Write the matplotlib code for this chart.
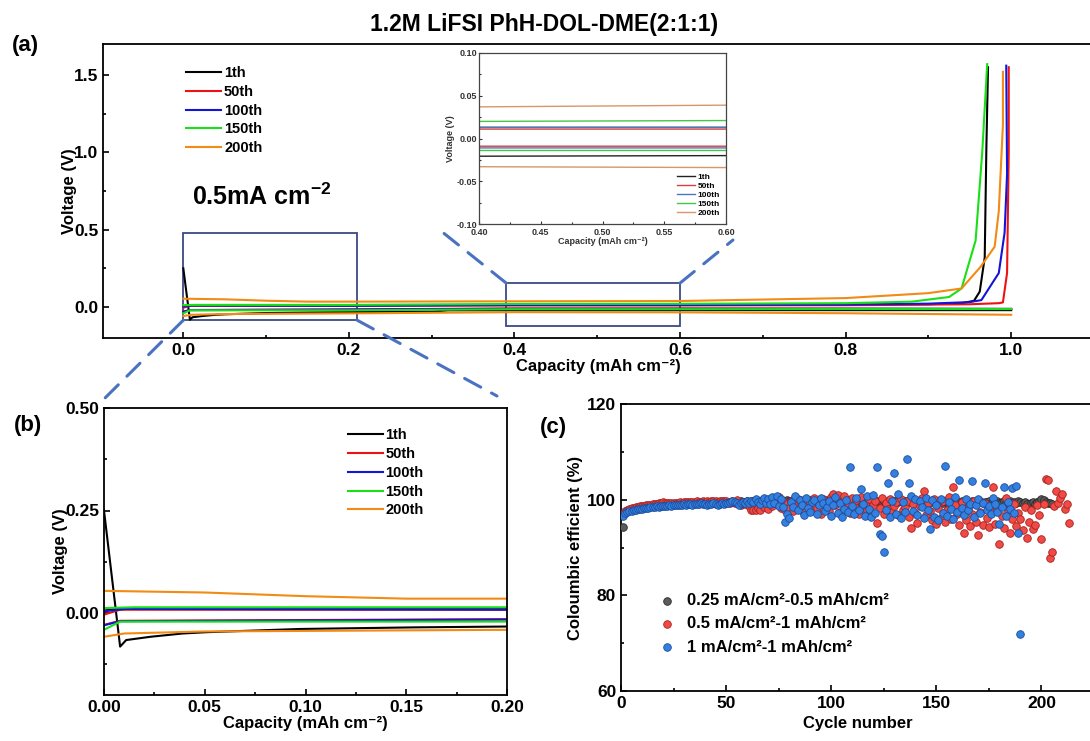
import matplotlib
matplotlib.use("Agg")
import matplotlib.pyplot as plt
from matplotlib.patches import Rectangle, ConnectionPatch
from matplotlib.ticker import MultipleLocator

plt.rcParams["font.family"] = ["Liberation Sans", "DejaVu Sans"]
plt.rcParams["font.weight"] = "bold"
plt.rcParams["axes.labelweight"] = "bold"
plt.rcParams["axes.unicode_minus"] = False
plt.rcParams["mathtext.fontset"] = "custom"
plt.rcParams["mathtext.rm"] = "Liberation Sans:bold"
plt.rcParams["mathtext.it"] = "Liberation Sans:bold"
plt.rcParams["mathtext.bf"] = "Liberation Sans:bold"
plt.rcParams["mathtext.default"] = "rm"

# ---- voltage profiles (capacity mAh cm-2, voltage V) ----
CYCLES = ["1th", "50th", "100th", "150th", "200th"]

strip_x_1 = [0.0, 0.01, 0.1, 0.2, 0.4, 0.6, 0.8, 0.9, 0.94, 0.955, 0.962, 0.968, 0.970, 0.972]
strip_y_1 = [0.006, 0.012, 0.012, 0.012, 0.013, 0.013, 0.014, 0.018, 0.025, 0.04, 0.10, 0.32, 1.03, 1.55]
plate_x_1 = [0.0, 0.008, 0.011, 0.023, 0.039, 0.05, 0.097, 0.155, 0.2, 0.30, 0.32, 0.6, 0.8, 1.0]
plate_y_1 = [0.25, -0.082, -0.066, -0.058, -0.050, -0.047, -0.039, -0.035, -0.033, -0.030, -0.021, -0.020, -0.020, -0.020]

strip_x_50 = [0.0, 0.008, 0.2, 0.4, 0.6, 0.8, 0.95, 0.985, 0.99, 0.995, 0.997, 0.997]
strip_y_50 = [-0.004, 0.008, 0.008, 0.011, 0.011, 0.012, 0.018, 0.025, 0.03, 0.22, 1.0, 1.55]
plate_x_50 = [0.0, 0.008, 0.2, 0.4, 0.6, 0.8, 1.0]
plate_y_50 = [-0.029, -0.019, -0.015, -0.009, -0.009, -0.010, -0.012]

strip_x_100 = [0.0, 0.011, 0.2, 0.4, 0.6, 0.8, 0.9, 0.95, 0.964, 0.985, 0.992, 0.995, 0.994]
strip_y_100 = [0.004, 0.010, 0.008, 0.013, 0.013, 0.016, 0.022, 0.032, 0.045, 0.22, 0.48, 0.86, 1.56]
plate_x_100 = [0.0, 0.008, 0.2, 0.4, 0.6, 0.8, 1.0]
plate_y_100 = [-0.030, -0.020, -0.016, -0.011, -0.011, -0.011, -0.012]

strip_x_150 = [0.0, 0.015, 0.2, 0.4, 0.6, 0.8, 0.88, 0.925, 0.94, 0.957, 0.965, 0.971]
strip_y_150 = [0.012, 0.014, 0.014, 0.020, 0.021, 0.025, 0.035, 0.065, 0.12, 0.43, 1.0, 1.57]
plate_x_150 = [0.0, 0.008, 0.2, 0.4, 0.6, 0.8, 1.0]
plate_y_150 = [-0.041, -0.021, -0.021, -0.014, -0.014, -0.013, -0.013]

strip_x_200 = [0.0, 0.05, 0.1, 0.15, 0.2, 0.4, 0.6, 0.8, 0.86, 0.9, 0.94, 0.963, 0.98, 0.985, 0.99, 0.99]
strip_y_200 = [0.054, 0.050, 0.041, 0.035, 0.035, 0.037, 0.039, 0.058, 0.077, 0.09, 0.12, 0.26, 0.39, 0.62, 1.18, 1.52]
plate_x_200 = [0.0, 0.01, 0.05, 0.2, 0.4, 0.6, 0.8, 1.0]
plate_y_200 = [-0.058, -0.050, -0.045, -0.041, -0.033, -0.034, -0.040, -0.050]

# ---- coulombic efficiency (%) per cycle ----
ce_025 = [
    94.3, 97.3, 97.6, 97.8, 98.0, 98.1, 98.2, 98.3, 98.4, 98.4,
    98.5, 98.5, 98.6, 98.6, 98.7, 98.7, 98.8, 98.8, 98.9, 98.9,
    98.9, 99.0, 99.0, 99.0, 99.1, 99.1, 99.1, 99.2, 99.2, 99.2,
    99.2, 99.3, 99.3, 99.2, 99.3, 99.4, 99.3, 99.4, 99.4, 99.3,
    99.4, 99.5, 99.4, 99.5, 99.4, 99.5, 99.5, 99.4, 99.5, 99.6,
    99.5, 99.6, 99.5, 99.6, 99.6, 99.5, 99.7, 99.6, 99.6, 99.7,
    99.6, 99.7, 99.7, 99.6, 99.8, 99.7, 99.7, 99.8, 99.6, 99.7,
    99.8, 99.7, 99.8, 99.9, 99.7, 99.8, 99.8, 99.7, 99.9, 99.8,
    99.8, 99.9, 99.7, 99.8, 99.9, 99.8, 99.9, 99.8, 99.7, 99.9,
    99.8, 99.9, 99.8, 100.0, 99.8, 99.9, 99.7, 99.9, 99.8, 99.9,
    99.8, 99.9, 99.7, 99.8, 99.9, 99.8, 99.6, 99.9, 99.8, 99.7,
    99.8, 99.9, 99.6, 99.8, 99.7, 99.9, 99.8, 99.6, 99.7, 99.8,
    99.6, 99.8, 99.7, 99.5, 99.8, 99.6, 99.7, 99.9, 99.6, 99.8,
    99.7, 99.5, 99.8, 99.6, 99.7, 99.8, 99.5, 99.7, 99.6, 99.8,
    99.6, 99.7, 99.5, 99.8, 99.6, 99.4, 99.7, 99.6, 99.8, 99.5,
    99.7, 99.6, 99.4, 99.7, 99.5, 99.8, 99.6, 99.4, 99.7, 99.5,
    99.6, 99.8, 99.5, 99.7, 99.4, 99.6, 99.8, 99.5, 99.3, 99.6,
    99.7, 99.4, 99.6, 99.5, 99.8, 99.3, 99.6, 99.5, 99.7, 99.4,
    99.6, 99.8, 99.4, 99.5, 99.7, 99.3, 99.6, 99.4, 99.8, 99.5,
    99.3, 99.6, 99.0, 98.7, 99.2, 99.5, 99.1, 99.6, 99.8, 100.1,
    99.9, 99.6, 99.4, 99.2, 99.0,
]
ce_05 = [
    97.0, 97.6, 97.9, 98.1, 98.2, 98.3, 98.4, 98.5, 98.6, 98.6,
    98.7, 98.8, 98.8, 98.9, 99.0, 99.0, 99.1, 99.2, 99.2, 99.5,
    99.2, 99.3, 99.3, 99.4, 99.3, 99.4, 99.4, 99.5, 99.4, 99.5,
    99.5, 99.6, 99.5, 99.6, 99.6, 99.7, 99.5, 99.6, 99.7, 99.6,
    99.7, 99.6, 99.7, 99.8, 99.7, 99.6, 99.7, 99.8, 99.7, 99.8,
    99.6, 99.2, 99.8, 99.4, 99.9, 99.3, 98.8, 99.6, 99.1, 99.5,
    98.6, 97.8, 97.9, 97.8, 98.3, 97.9, 99.0, 98.4, 99.5, 98.0,
    99.2, 98.6, 100.4, 99.1, 100.6, 98.3, 99.7, 97.9, 99.0, 98.2,
    99.8, 97.6, 98.9, 100.2, 98.4, 99.3, 97.2, 100.0, 98.7, 99.5,
    97.9, 100.3, 98.3, 99.0, 97.1, 100.1, 98.6, 99.4, 97.7, 100.5,
    101.2, 98.8, 100.9, 97.5, 99.6, 100.7, 98.1, 99.2, 97.3, 100.4,
    98.6, 99.9, 97.0, 100.6, 98.3, 99.1, 97.8, 100.2, 96.6, 98.9,
    99.7, 95.1, 98.2, 100.3, 96.9, 99.4, 98.0, 100.1, 97.4, 98.7,
    99.6, 96.8, 100.2, 97.9, 98.5, 99.8, 96.4, 94.0, 99.1, 97.2,
    95.2, 98.6, 100.4, 101.9, 96.7, 99.3, 97.6, 95.8, 100.1, 94.9,
    98.3, 96.2, 99.7, 95.4, 97.9, 100.6, 96.0, 102.7, 98.9, 97.1,
    94.6, 99.5, 93.0, 95.8, 98.2, 94.4, 96.9, 99.8, 95.3, 92.6,
    97.4, 94.8, 99.2, 96.1, 94.3, 97.6, 102.7, 95.0, 98.0, 90.8,
    96.6, 94.1, 100.3, 97.7, 93.0, 95.9, 99.0, 94.5, 97.2, 96.0,
    93.7, 98.4, 92.0, 95.3, 97.8, 93.9, 94.6, 98.9, 96.7, 91.8,
    99.1, 104.3, 104.1, 87.8, 89.0, 98.6, 101.9, 99.4, 100.3, 101.2,
    98.0, 99.0, 95.2,
]
ce_1 = [
    96.6, 97.2, 97.5, 97.6, 97.7, 97.8, 97.9, 98.0, 98.1, 98.1,
    98.2, 98.3, 98.3, 98.4, 98.5, 98.4, 98.6, 98.5, 98.6, 98.7,
    98.6, 98.7, 98.8, 98.7, 98.8, 98.9, 98.8, 98.9, 98.9, 99.0,
    98.9, 99.0, 99.1, 98.9, 99.0, 99.1, 99.0, 99.2, 99.1, 99.0,
    98.8, 99.1, 99.0, 99.2, 99.1, 98.9, 99.0, 99.2, 99.1, 99.3,
    99.4, 99.6, 99.8, 99.5, 99.2, 98.9, 99.3, 99.6, 99.4, 99.7,
    99.2, 99.8, 99.5, 100.2, 99.6, 99.1, 99.9, 100.4, 99.3, 100.1,
    99.0, 100.5, 99.4, 100.8, 98.7, 100.2, 98.5, 95.3, 97.1, 96.2,
    99.5, 98.4, 100.7, 97.8, 99.9, 98.9, 96.8, 100.3, 98.2, 97.4,
    99.6, 100.0, 97.0, 98.8, 100.4, 99.2, 97.6, 98.5, 99.8, 96.5,
    98.9, 100.6, 97.3, 99.4, 96.4, 98.1, 99.9, 97.5, 106.8, 98.6,
    96.9, 100.3, 97.8, 102.2, 99.1, 96.6, 100.7, 98.0, 96.3, 100.9,
    97.2, 106.8, 92.8, 92.3, 89.1, 97.9, 103.5, 96.4, 99.8, 105.6,
    97.0, 101.1, 96.1, 99.5, 97.4, 108.5, 103.5, 100.8, 97.6, 100.1,
    96.8, 99.7, 98.5, 96.2, 100.4, 97.8, 93.8, 99.9, 96.4, 98.9,
    95.8, 100.2, 97.3, 107.1, 96.5, 99.6, 98.1, 95.9, 100.6, 97.4,
    104.1, 98.3, 96.7, 100.1, 97.9, 99.0, 104.0, 96.3, 98.8, 100.2,
    97.2, 99.4, 103.4, 97.8, 98.6, 96.9, 100.3, 99.1, 97.5, 94.9,
    98.4, 102.7, 96.5, 99.6, 98.0, 102.5, 97.3, 102.8, 93.1, 71.9,
]
CE_LABELS = [
    "0.25 mA/cm²-0.5 mAh/cm²",
    "0.5 mA/cm²-1 mAh/cm²",
    "1 mA/cm²-1 mAh/cm²",
]

MAIN_COLORS = ["#000000", "#ee1111", "#1414d8", "#18e018", "#f28a14"]
INSET_COLORS = ["#222222", "#d84040", "#4a78b8", "#44c844", "#d8966a"]

profiles = [
    (strip_x_1, strip_y_1, plate_x_1, plate_y_1),
    (strip_x_50, strip_y_50, plate_x_50, plate_y_50),
    (strip_x_100, strip_y_100, plate_x_100, plate_y_100),
    (strip_x_150, strip_y_150, plate_x_150, plate_y_150),
    (strip_x_200, strip_y_200, plate_x_200, plate_y_200),
]

W, H = 1090, 741
CAP_LABEL = "Capacity (mAh cm⁻²)"


def px_axes(left, top, right, bottom):
    return [left / W, 1 - bottom / H, (right - left) / W, (bottom - top) / H]


def style_ticks(ax, size=12.5, length=4):
    ax.tick_params(which="both", direction="in", labelsize=size, width=1.2)
    ax.tick_params(which="major", length=length)
    ax.tick_params(which="minor", length=length * 0.6)
    for sp in ax.spines.values():
        sp.set_linewidth(1.3)


fig = plt.figure(figsize=(W / 100, H / 100), dpi=100)

# ---------- (a) ----------
ax_a = fig.add_axes(px_axes(103, 44, 1094, 338))
for (sx, sy, px, py), c, lab in zip(profiles, MAIN_COLORS, CYCLES):
    ax_a.plot(px, py, color=c, lw=1.5)
    ax_a.plot(sx, sy, color=c, lw=1.5, label=lab)
ax_a.set_xlim(-0.097, 1.1)
ax_a.set_ylim(-0.2, 1.7)
ax_a.xaxis.set_major_locator(MultipleLocator(0.2))
ax_a.xaxis.set_minor_locator(MultipleLocator(0.1))
ax_a.yaxis.set_major_locator(MultipleLocator(0.5))
ax_a.yaxis.set_minor_locator(MultipleLocator(0.25))
style_ticks(ax_a)
ax_a.set_xlabel(CAP_LABEL, fontsize=12, labelpad=1)
ax_a.set_ylabel("Voltage (V)", fontsize=12, labelpad=-2)
ax_a.legend(loc="upper left", bbox_to_anchor=(0.078, 0.945), frameon=False,
            fontsize=10.5, handlelength=2.4, handletextpad=0.2, labelspacing=0.33,
            borderaxespad=0)
ax_a.text(0.095, 0.71, "0.5mA cm$^{-2}$", fontsize=18, ha="center", va="center")
box_col = "#3b4a86"
ax_a.add_patch(Rectangle((0.0, -0.085), 0.21, 0.565, fill=False, ec=box_col, lw=1.3))
ax_a.add_patch(Rectangle((0.39, -0.125), 0.21, 0.28, fill=False, ec=box_col, lw=1.3))

# inset
ax_i = fig.add_axes(px_axes(479, 53, 726, 224))
for (sx, sy, px, py), c, lab in zip(profiles, INSET_COLORS, CYCLES):
    ax_i.plot(px, py, color=c, lw=1.0)
    ax_i.plot(sx, sy, color=c, lw=1.0, label=lab)
ax_i.set_xlim(0.4, 0.6)
ax_i.set_ylim(-0.1, 0.1)
ax_i.xaxis.set_major_locator(MultipleLocator(0.05))
ax_i.xaxis.set_minor_locator(MultipleLocator(0.025))
ax_i.yaxis.set_major_locator(MultipleLocator(0.05))
ax_i.yaxis.set_minor_locator(MultipleLocator(0.025))
ax_i.tick_params(which="both", direction="in", labelsize=6.5, width=0.8,
                 colors="#333333")
ax_i.tick_params(axis="x", pad=3)
ax_i.tick_params(axis="y", pad=1.5)
ax_i.tick_params(which="major", length=2.5)
ax_i.tick_params(which="minor", length=1.5)
for sp in ax_i.spines.values():
    sp.set_linewidth(0.9)
    sp.set_color("#444444")
ax_i.set_xlabel(CAP_LABEL, fontsize=6.5, labelpad=0, color="#333333")
ax_i.set_ylabel("Voltage (V)", fontsize=6.5, labelpad=1, color="#333333")
ax_i.legend(loc="lower right", bbox_to_anchor=(0.99, 0.02), frameon=False,
            fontsize=6, handlelength=2.2, handletextpad=0.3, labelspacing=0.15,
            borderaxespad=0)

# ---------- (b) ----------
ax_b = fig.add_axes(px_axes(104, 408, 507, 695))
for (sx, sy, px, py), c, lab in zip(profiles, MAIN_COLORS, CYCLES):
    ax_b.plot(px, py, color=c, lw=1.5)
    ax_b.plot(sx, sy, color=c, lw=1.5, label=lab)
ax_b.set_xlim(0, 0.2)
ax_b.set_ylim(-0.2, 0.5)
ax_b.xaxis.set_major_locator(MultipleLocator(0.05))
ax_b.xaxis.set_minor_locator(MultipleLocator(0.025))
ax_b.yaxis.set_major_locator(MultipleLocator(0.25))
ax_b.yaxis.set_minor_locator(MultipleLocator(0.125))
ax_b.xaxis.set_major_formatter(plt.FormatStrFormatter("%.2f"))
ax_b.yaxis.set_major_formatter(plt.FormatStrFormatter("%.2f"))
style_ticks(ax_b)
ax_b.set_xlabel(CAP_LABEL, fontsize=12, labelpad=1)
ax_b.set_ylabel("Voltage (V)", fontsize=12, labelpad=-2)
ax_b.legend(loc="upper left", bbox_to_anchor=(0.59, 0.95), frameon=False,
            fontsize=10.5, handlelength=2.4, handletextpad=0.2, labelspacing=0.33,
            borderaxespad=0)

# ---------- (c) ----------
ax_c = fig.add_axes(px_axes(621, 404, 1094, 691))
series = [
    (ce_025, "#5b5b5b", "#2a2a2a"),
    (ce_05, "#ef4a44", "#a82020"),
    (ce_1, "#3380e0", "#1a4c9c"),
]
for (vals, fc, ec), lab in zip(series, CE_LABELS):
    cyc = list(range(1, len(vals) + 1))
    ax_c.scatter(cyc, vals, s=30, c=fc, edgecolors=ec, linewidths=0.6, label=lab,
                 zorder=3)
ax_c.set_xlim(0, 225)
ax_c.set_ylim(60, 120)
ax_c.xaxis.set_major_locator(MultipleLocator(50))
ax_c.xaxis.set_minor_locator(MultipleLocator(25))
ax_c.yaxis.set_major_locator(MultipleLocator(20))
ax_c.yaxis.set_minor_locator(MultipleLocator(10))
style_ticks(ax_c)
ax_c.set_xlabel("Cycle number", fontsize=12, labelpad=4)
ax_c.set_ylabel("Coloumbic efficient (%)", fontsize=12, labelpad=3)
ax_c.legend(loc="upper left", bbox_to_anchor=(0.065, 0.365), frameon=False,
            fontsize=12, scatterpoints=1, handlelength=1.0, handletextpad=0.7,
            labelspacing=0.5, borderaxespad=0)

# ---------- dashed zoom connectors ----------
dash_col = "#4a72c0"
conns = [
    (ax_a, (0.0, -0.085), (105, 398)),
    (ax_a, (0.21, -0.085), (497, 396)),
    (ax_a, (0.39, 0.155), (441, 231)),
    (ax_a, (0.60, 0.155), (733, 240)),
]
for ax, xy, (fx, fy) in conns:
    cp = ConnectionPatch(xyA=xy, coordsA="data", axesA=ax,
                         xyB=(fx / W, 1 - fy / H), coordsB="figure fraction",
                         color=dash_col, lw=2.2, linestyle=(0, (6, 4)))
    fig.add_artist(cp)

# ---------- titles / panel labels ----------
fig.text(544 / W, 1 - 24 / H, "1.2M LiFSI PhH-DOL-DME(2:1:1)", ha="center", va="center",
         fontsize=16.5)
fig.text(25 / W, 1 - 45 / H, "(a)", ha="center", va="center", fontsize=16)
fig.text(28 / W, 1 - 425 / H, "(b)", ha="center", va="center", fontsize=16)
fig.text(553 / W, 1 - 428 / H, "(c)", ha="center", va="center", fontsize=16)

fig.savefig("out.png", dpi=100)
